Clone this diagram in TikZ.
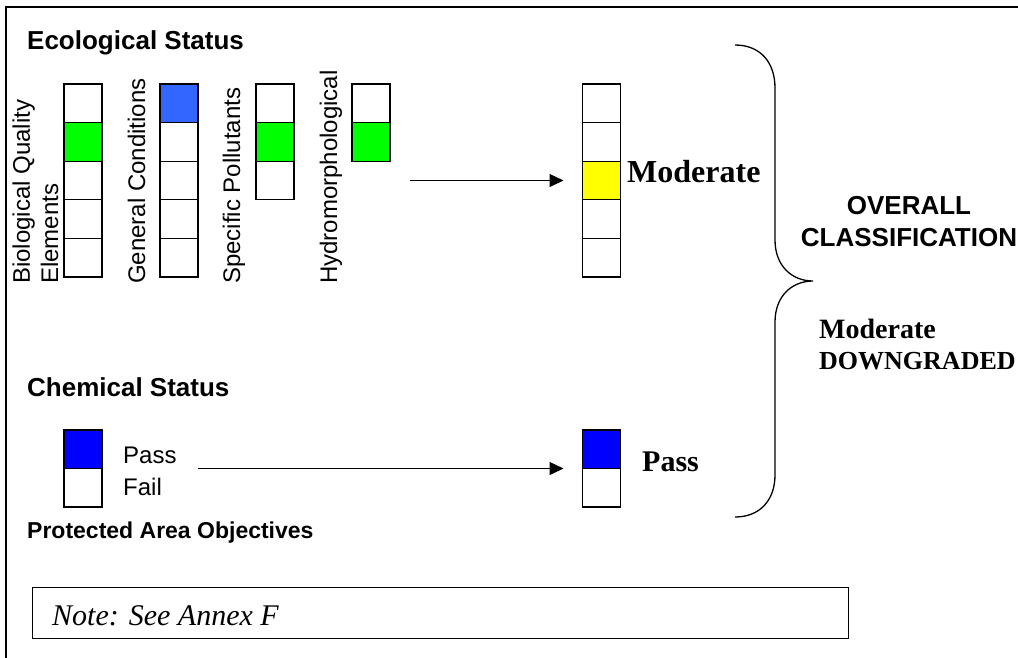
\documentclass[tikz,border=0pt]{standalone}
\usepackage{fontspec}
\setmainfont{Liberation Serif}
\setsansfont{Liberation Sans}
\usetikzlibrary{arrows.meta}
\definecolor{cgreen}{HTML}{00FF00}
\definecolor{cblue}{HTML}{3366FF}
\definecolor{cyellow}{HTML}{FFFF00}
\definecolor{cdblue}{HTML}{0000FF}
\begin{document}
\begin{tikzpicture}[x=1pt,y=-1pt,
  cell/.style={draw, line width=1.2pt, minimum width=38pt, minimum height=38.6pt, inner sep=0pt, outer sep=0pt, fill=white},
  ccell/.style={cell, minimum height=38.5pt},
  head/.style={font=\sffamily\bfseries\fontsize{26}{30}\selectfont, inner sep=0pt, anchor=base west},
  vlabel/.style={font=\sffamily\fontsize{24}{28}\selectfont, inner sep=0pt, anchor=base west, rotate=90},
  plain/.style={font=\sffamily\fontsize{24}{28}\selectfont, inner sep=0pt, anchor=base west},
  serifb/.style={font=\rmfamily\bfseries\fontsize{#1}{#1}\selectfont, inner sep=0pt, anchor=base west},
  conn/.style={line width=1.3pt, -{Triangle[length=14pt,width=13pt]}},
  brace/.style={line width=1.3pt}
]
\useasboundingbox (0,0) rectangle (1018,657);
% outer frame (cropped)
\draw[line width=2pt] (6,700) -- (6,7) -- (1100,7);

% Headings
\node[head] (eco) at (27,49) {Ecological Status};
\node[head] (chem) at (27,396) {Chemical Status};
\node[head, font=\sffamily\bfseries\fontsize{23}{27}\selectfont] (pao) at (27,538) {Protected Area Objectives};

% Rotated labels
\node[vlabel] (lbio1) at (30,284) {Biological Quality};
\node[vlabel] (lbio2) at (58,284) {Elements};
\node[vlabel] (lgen) at (145,284) {General Conditions};
\node[vlabel] (lspec) at (240,284) {Specific Pollutants};
\node[vlabel] (lhyd) at (337,284) {Hydromorphological};

% Biological column
\foreach \i/\c in {1/white,2/cgreen,3/white,4/white,5/white}
  \node[cell, fill=\c] (b\i) at (83, {84+(\i-0.5)*38.6}) {};
% General conditions
\foreach \i/\c in {1/cblue,2/white,3/white,4/white,5/white}
  \node[cell, fill=\c] (g\i) at (179, {84+(\i-0.5)*38.6}) {};
% Specific pollutants
\foreach \i/\c in {1/white,2/cgreen,3/white}
  \node[cell, fill=\c] (s\i) at (275, {84+(\i-0.5)*38.6}) {};
% Hydromorphological
\foreach \i/\c in {1/white,2/cgreen}
  \node[cell, fill=\c] (h\i) at (371, {84+(\i-0.5)*38.6}) {};
% Result column
\foreach \i/\c in {1/white,2/white,3/cyellow,4/white,5/white}
  \node[cell, fill=\c] (m\i) at (601.5, {84+(\i-0.5)*38.6}) {};

\node[serifb=32] (modtxt) at (627,182) {Moderate};

% arrow 1
\coordinate (a1s) at (410,180.5);
\draw[conn] (a1s) -- ([xshift=-19pt]m3.west);

% Chemical status
\node[ccell, fill=cdblue] (c1) at (83,449.25) {};
\node[ccell] (c2) at (83,487.75) {};
\node[plain] (pass) at (123,463) {Pass};
\node[plain] (fail) at (123,495) {Fail};
\node[ccell, fill=cdblue] (r1) at (601.5,449.25) {};
\node[ccell] (r2) at (601.5,487.75) {};
\node[serifb=30] (passb) at (642,471) {Pass};

\coordinate (a2s) at (198,468.5);
\draw[conn] (a2s) -- ([xshift=-19pt]r1.south west);

% Brace
\coordinate (bt) at (735,45);
\coordinate (bp) at (813,281);
\coordinate (bb) at (735,517);
\draw[brace] (bt) .. controls (760,45) and (775,62) .. (775,88) -- (775,240)
  .. controls (775,266) and (792,281) .. (bp)
  .. controls (792,281) and (775,296) .. (775,322) -- (775,475)
  .. controls (775,500) and (760,517) .. (bb);

% Overall classification
\node[font=\sffamily\bfseries\fontsize{26}{30}\selectfont, inner sep=0pt, anchor=base] (ov1) at (909,214) {OVERALL};
\node[font=\sffamily\bfseries\fontsize{26}{30}\selectfont, inner sep=0pt, anchor=base] (ov2) at (909,246) {CLASSIFICATION};
\node[serifb=28] (ovm) at (819,338) {Moderate};
\node[serifb=26] (ovd) at (819,369) {DOWNGRADED};

% Note
\node[draw, line width=1.4pt, anchor=north west, minimum width=816pt, minimum height=51pt, inner sep=0pt] (notebox) at (32,587) {};
\node[font=\rmfamily\itshape\fontsize{30}{32}\selectfont, inner sep=0pt, anchor=base west] (note) at (52,625) {Note: See Annex F};
\end{tikzpicture}
\end{document}
